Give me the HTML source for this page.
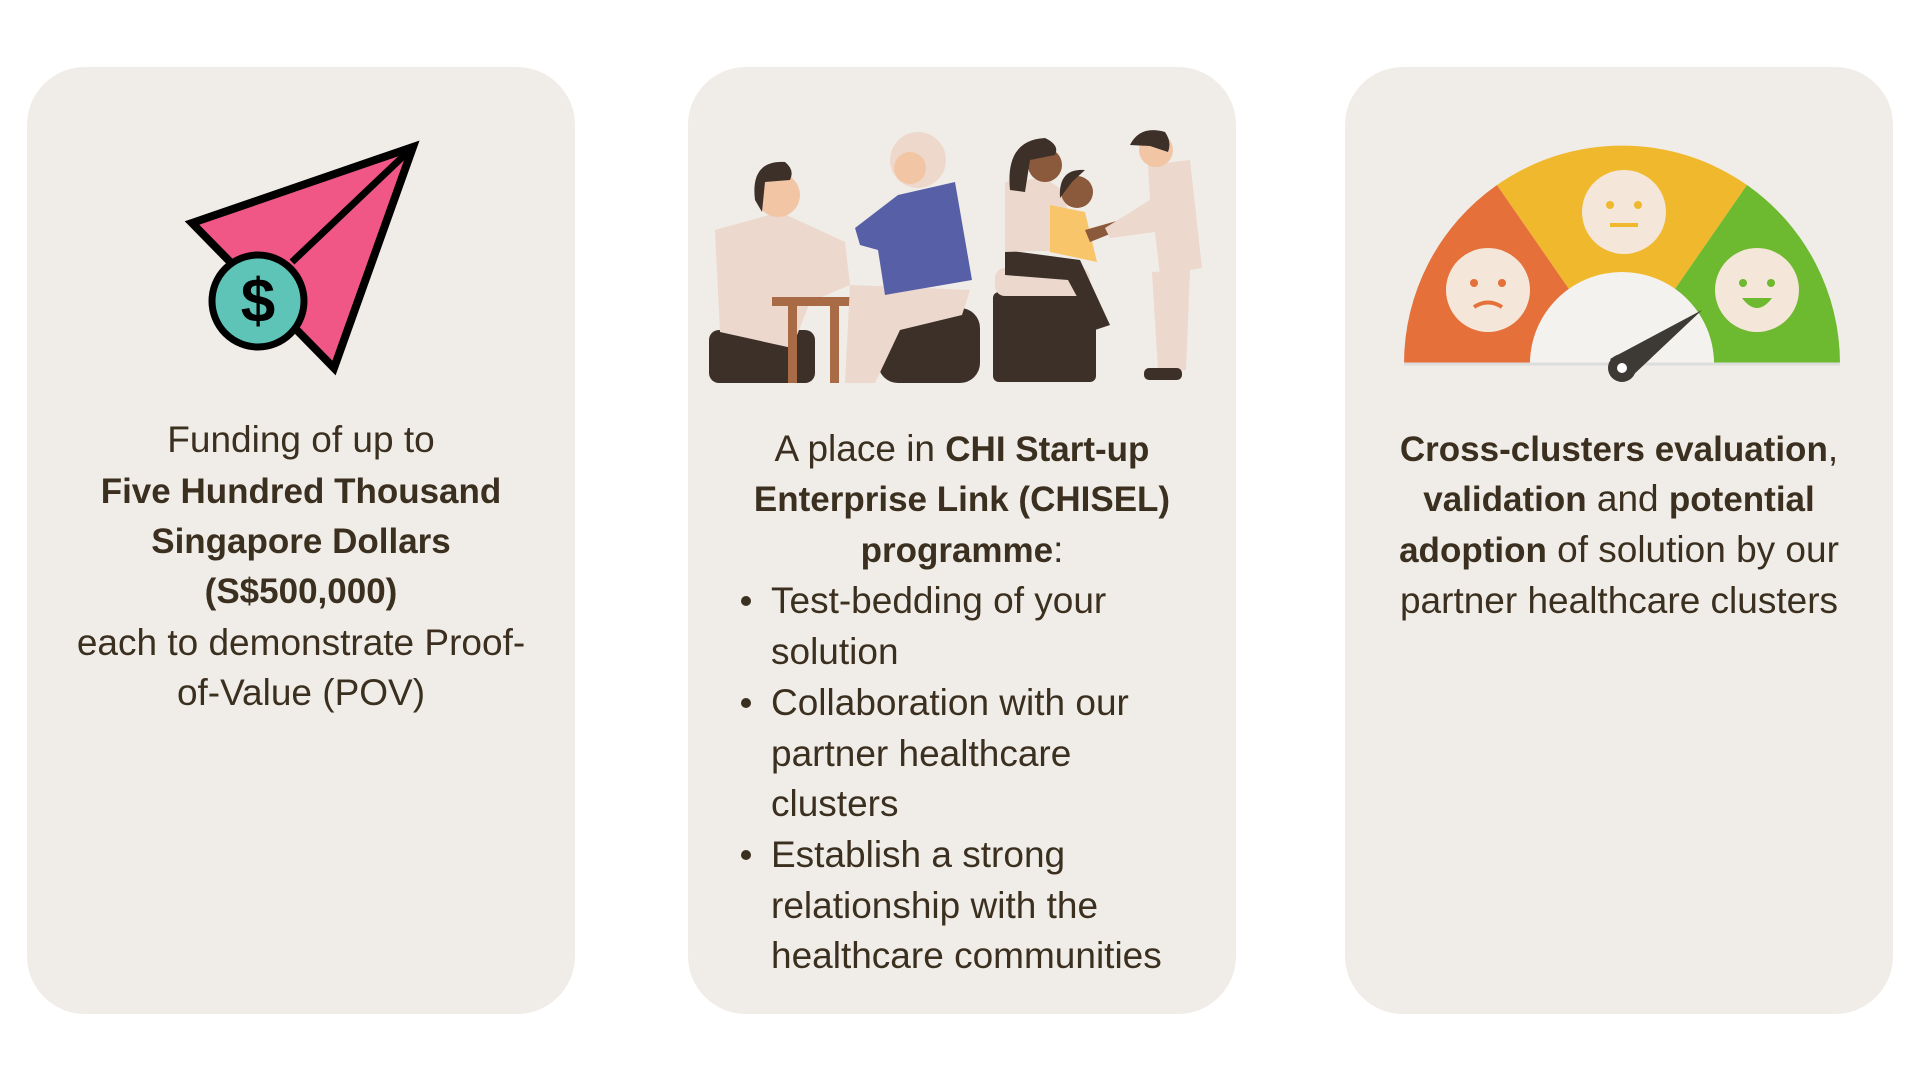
<!DOCTYPE html>
<html><head><meta charset="utf-8">
<style>
html,body{margin:0;padding:0;width:1920px;height:1080px;background:#fff;overflow:hidden;font-family:"Liberation Sans",sans-serif;}
.card{position:absolute;top:67px;width:548px;height:947px;background:#f0ede8;border-radius:58px;}
.t{position:absolute;left:0;width:100%;text-align:center;font-size:37px;color:#3b3020;line-height:50px;white-space:nowrap;}
b{font-weight:bold;font-size:35px;}
.bl{position:absolute;font-size:37px;color:#3b3020;line-height:50.5px;white-space:nowrap;}
.dot{position:absolute;width:10px;height:10px;border-radius:5px;background:#3b3020;}
svg{position:absolute;left:0;top:0;}
</style></head><body>
<div class="card" style="left:27px"></div>
<div class="card" style="left:688px"></div>
<div class="card" style="left:1345px"></div>

<svg width="1920" height="1080">
 <g>
  <polygon points="192,223 413,147 334,368" fill="#f05787" stroke="#000" stroke-width="8" stroke-linejoin="miter"/>
  <line x1="413" y1="147" x2="292" y2="262" stroke="#000" stroke-width="7"/>
  <circle cx="258" cy="301" r="46" fill="#5fc4b8" stroke="#000" stroke-width="7"/>
  <text x="258" y="322" text-anchor="middle" font-size="62" font-family="Liberation Sans" font-weight="bold" fill="#000">$</text>
 </g>
 <g transform="translate(700,120)">
  <rect x="9" y="210" width="106" height="53" rx="10" fill="#3d3029"/>
  <polygon points="15,110 80,92 145,122 150,165 110,182 92,228 20,212" fill="#ecd8cc"/>
  <circle cx="78" cy="75" r="22" fill="#f2c5a5"/>
  <path d="M55,80 Q50,40 85,42 Q95,50 90,60 L65,62 L62,92 Z" fill="#3d3029"/>
  <rect x="72" y="177" width="80" height="9" fill="#a86b45"/>
  <rect x="88" y="186" width="9" height="77" fill="#a86b45"/>
  <rect x="130" y="186" width="9" height="77" fill="#a86b45"/>
  <rect x="178" y="188" width="102" height="75" rx="20" fill="#3d3029"/>
  <polygon points="150,165 270,170 262,195 200,210 175,263 145,263" fill="#ecd8cc"/>
  <polygon points="155,108 198,75 255,62 272,160 185,175 178,130 160,125" fill="#5760a6"/>
  <circle cx="218" cy="40" r="28" fill="#eed8cc"/>
  <circle cx="210" cy="48" r="16" fill="#f2c5a5"/>
  <rect x="293" y="172" width="103" height="90" rx="6" fill="#3d3029"/>
  <rect x="295" y="148" width="95" height="28" rx="10" fill="#ecd8cc"/>
  <polygon points="305,130 380,140 410,205 395,210 368,160 305,155" fill="#3d3029"/>
  <polygon points="305,62 345,58 362,70 380,130 305,132" fill="#ecd8cc"/>
  <circle cx="345" cy="45" r="17" fill="#8b5a3c"/>
  <path d="M310,70 Q305,20 345,18 Q360,25 355,35 L330,40 L325,72 Z" fill="#3d3029"/>
  <polygon points="350,85 385,92 397,142 350,132" fill="#f8c56a"/>
  <polygon points="385,110 420,100 425,108 390,122" fill="#8b5a3c"/>
  <circle cx="377" cy="72" r="16" fill="#8b5a3c"/>
  <path d="M360,78 Q358,48 385,50 L372,62 Z" fill="#3d3029"/>
  <polygon points="448,45 490,40 502,148 460,155 455,112 410,118 405,108 450,80" fill="#ecd8cc"/>
  <polygon points="452,152 490,150 486,250 458,250" fill="#ecd8cc"/>
  <rect x="444" y="248" width="38" height="12" rx="5" fill="#3d3029"/>
  <circle cx="456" cy="30" r="17" fill="#f2c5a5"/>
  <path d="M430,25 Q440,5 465,12 Q472,22 468,32 L450,26 Z" fill="#3d3029"/>
 </g>
 <g>
  <path d="M1404,364 A218,218 0 0 1 1497,185 L1569,289 A92,92 0 0 0 1530,364 Z" fill="#e5703a"/>
  <path d="M1497,185 A218,218 0 0 1 1747,185 L1675,289 A92,92 0 0 0 1569,289 Z" fill="#f0b82d"/>
  <path d="M1747,185 A218,218 0 0 1 1840,364 L1714,364 A92,92 0 0 0 1675,289 Z" fill="#6db92f"/>
  <path d="M1530,364 A92,92 0 0 1 1714,364 Z" fill="#f4f2ef"/>
  <line x1="1404" y1="364" x2="1840" y2="364" stroke="#ddd" stroke-width="3"/>
  <circle cx="1488" cy="290" r="42" fill="#f4e6d8"/>
  <circle cx="1474" cy="283" r="4" fill="#e5703a"/><circle cx="1502" cy="283" r="4" fill="#e5703a"/>
  <path d="M1474,307 Q1488,298 1502,307" stroke="#e5703a" stroke-width="4" fill="none"/>
  <circle cx="1624" cy="212" r="42" fill="#f4e6d8"/>
  <circle cx="1610" cy="205" r="4" fill="#f0b82d"/><circle cx="1638" cy="205" r="4" fill="#f0b82d"/>
  <rect x="1610" y="223" width="28" height="4" fill="#f0b82d"/>
  <circle cx="1757" cy="290" r="42" fill="#f4e6d8"/>
  <circle cx="1743" cy="283" r="4" fill="#6db92f"/><circle cx="1771" cy="283" r="4" fill="#6db92f"/>
  <path d="M1742,298 Q1757,318 1772,298 Z" fill="#6db92f"/>
  <polygon points="1610,359 1702,310 1630,378" fill="#3d3a36"/>
  <circle cx="1622" cy="368" r="14" fill="#3d3a36"/>
  <circle cx="1622" cy="368" r="5" fill="#fff"/>
 </g>
</svg>

<div style="position:absolute;left:27px;width:548px;top:415px">
 <div class="t" style="top:0">Funding of up to</div>
 <div class="t" style="top:51px"><b>Five Hundred Thousand</b></div>
 <div class="t" style="top:101px"><b>Singapore Dollars</b></div>
 <div class="t" style="top:151px"><b>(S$500,000)</b></div>
 <div class="t" style="top:203px">each to demonstrate Proof-</div>
 <div class="t" style="top:253px">of-Value (POV)</div>
</div>

<div style="position:absolute;left:688px;width:548px;top:424px">
 <div class="t" style="top:0">A place in <b>CHI Start-up</b></div>
 <div class="t" style="top:50px"><b>Enterprise Link (CHISEL)</b></div>
 <div class="t" style="top:101px"><b>programme</b>:</div>
</div>
<div>
 <div class="dot" style="left:741px;top:596px"></div>
 <div class="bl" style="left:771px;top:576px">Test-bedding of your<br>solution</div>
 <div class="dot" style="left:741px;top:698px"></div>
 <div class="bl" style="left:771px;top:678px">Collaboration with our<br>partner healthcare<br>clusters</div>
 <div class="dot" style="left:741px;top:850px"></div>
 <div class="bl" style="left:771px;top:830px">Establish a strong<br>relationship with the<br>healthcare communities</div>
</div>

<div style="position:absolute;left:1345px;width:548px;top:424px">
 <div class="t" style="top:0"><b>Cross-clusters evaluation</b>,</div>
 <div class="t" style="top:50px"><b>validation</b> and <b>potential</b></div>
 <div class="t" style="top:101px"><b>adoption</b> of solution by our</div>
 <div class="t" style="top:152px">partner healthcare clusters</div>
</div>
</body></html>
